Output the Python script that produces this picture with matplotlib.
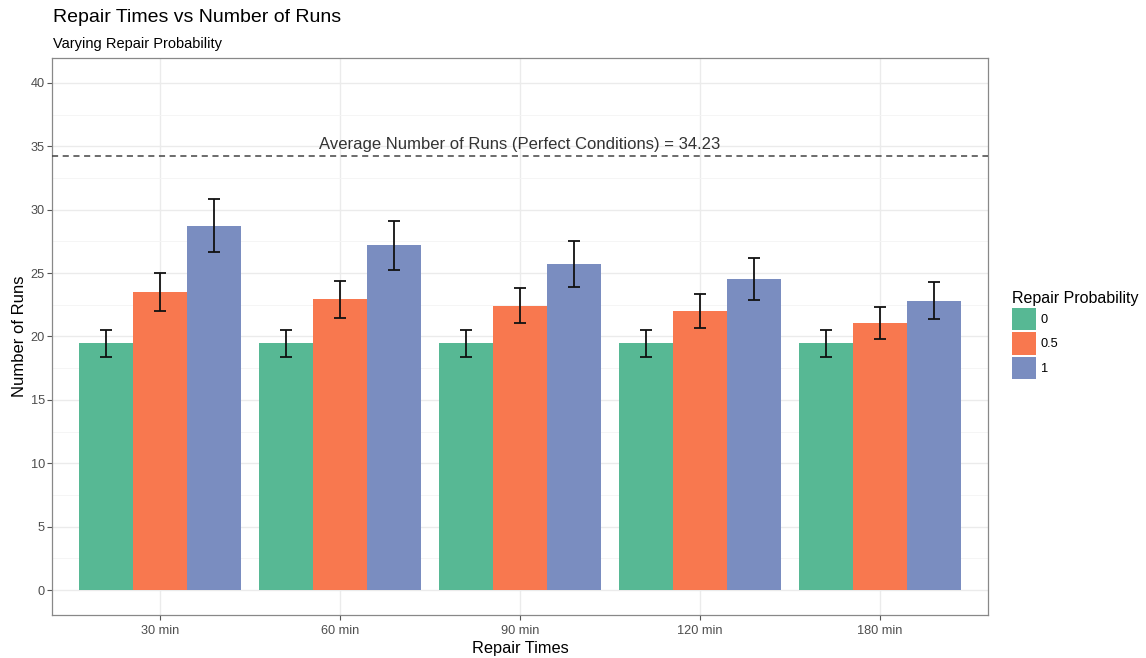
import numpy as np
import matplotlib.pyplot as plt
from matplotlib.patches import Patch
from matplotlib.ticker import MultipleLocator

plt.rcParams['font.family'] = ['Liberation Sans', 'DejaVu Sans']

repair_times = ["30 min", "60 min", "90 min", "120 min", "180 min"]
probabilities = ["0", "0.5", "1"]
runs_p0 = [19.46, 19.46, 19.46, 19.46, 19.46]
runs_p05 = [23.54, 22.93, 22.41, 21.98, 21.09]
runs_p1 = [28.75, 27.19, 25.72, 24.56, 22.82]
err_p0 = [1.08, 1.08, 1.08, 1.08, 1.08]
err_p05 = [1.50, 1.45, 1.38, 1.34, 1.26]
err_p1 = [2.09, 1.92, 1.80, 1.66, 1.47]
perfect_avg = 34.23

colors = ['#57B894', '#F8784F', '#7A8DC0']
means = [runs_p0, runs_p05, runs_p1]
errs = [err_p0, err_p05, err_p1]

fig = plt.figure(figsize=(11.46, 6.58), dpi=100)
ax = fig.add_axes([52 / 1146, 1 - 615 / 658, 936 / 1146, 557 / 658])

x = np.arange(1, len(repair_times) + 1)
w = 0.3
for i in range(3):
    xs = x + (i - 1) * w
    ax.bar(xs, means[i], width=w, color=colors[i], zorder=2)
    ax.errorbar(xs, means[i], yerr=errs[i], fmt='none', ecolor='#111111',
                elinewidth=1.3, capsize=4.5, capthick=1.3, zorder=3)

ax.axhline(perfect_avg, color='#444444', linestyle=(0, (4, 3)), linewidth=1.1, zorder=3)
ax.text(3, perfect_avg + 0.3, f"Average Number of Runs (Perfect Conditions) = {perfect_avg}",
        ha='center', va='bottom', fontsize=12, color='#333333', zorder=4)

ax.set_xlim(0.4, 5.6)
ax.set_ylim(-1.97, 41.97)
ax.set_xticks(x)
ax.set_xticklabels(repair_times)
ax.yaxis.set_major_locator(MultipleLocator(5))
ax.yaxis.set_minor_locator(MultipleLocator(2.5))
ax.grid(which='major', color='#EBEBEB', linewidth=1.0, zorder=0)
ax.grid(which='minor', axis='y', color='#F4F4F4', linewidth=0.6, zorder=0)
ax.set_axisbelow(True)
ax.tick_params(which='major', colors='#555555', labelcolor='#4D4D4D', labelsize=9.2, length=3.5)
ax.tick_params(axis='y', which='major', pad=1.5)
ax.tick_params(which='minor', length=0)
for s in ax.spines.values():
    s.set_color('#888888')
    s.set_linewidth(0.9)

ax.set_xlabel("Repair Times", fontsize=11.8, labelpad=3)
ax.set_ylabel("Number of Runs", fontsize=12, labelpad=3)

fig.text(53 / 1146, 1 - 18 / 658, "Repair Times vs Number of Runs", fontsize=14, va='center', ha='left')
fig.text(53 / 1146, 1 - 44 / 658, "Varying Repair Probability", fontsize=10.5, va='center', ha='left')

handles = [Patch(facecolor=c, edgecolor='none') for c in colors]
leg = fig.legend(handles, probabilities, title="Repair Probability", loc='upper left',
                 bbox_to_anchor=(1012 / 1146, 1 - 291 / 658), frameon=False,
                 fontsize=9.2, title_fontsize=11.5, handlelength=1.85, handleheight=2.3,
                 handletextpad=0.4, labelspacing=0.16, borderaxespad=0, borderpad=0)
leg._legend_box.align = 'left'

fig.savefig('out.png', dpi=100)
